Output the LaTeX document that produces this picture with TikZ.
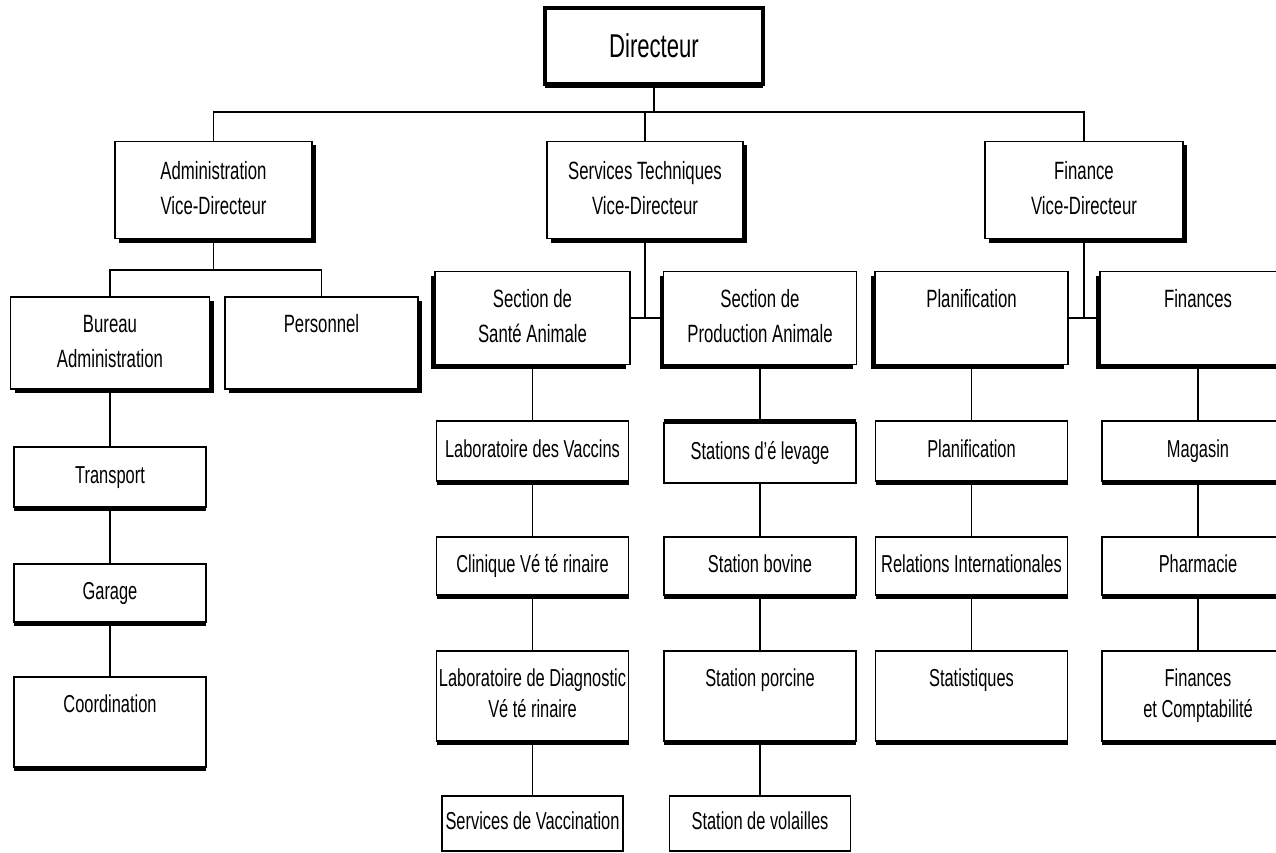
\documentclass[tikz,border=0pt]{standalone}
\usepackage{fontspec}
\setmainfont{Liberation Sans}[FakeStretch=0.67]
\usetikzlibrary{shadows}
\tikzset{
  box/.style={draw, line width=1.6pt, fill=white, inner sep=0pt, align=center,
    font=\fontsize{24.5}{31}\selectfont},
  big/.style={font=\fontsize{25}{35}\selectfont},
  sz/.style 2 args={minimum width=#1pt, minimum height=#2pt},
  shB/.style={drop shadow={shadow xshift=0pt, shadow yshift=-4pt, fill=black, opacity=1}},
  shBR/.style={drop shadow={shadow xshift=4pt, shadow yshift=-4pt, fill=black, opacity=1}},
  shBL/.style={drop shadow={shadow xshift=-4pt, shadow yshift=-4pt, fill=black, opacity=1}},
  shT/.style={drop shadow={shadow xshift=0pt, shadow yshift=4pt, fill=black, opacity=1}},
  link/.style={line width=1.5pt}
}
\begin{document}
\begin{tikzpicture}[x=1pt,y=-1pt]
\useasboundingbox (0,0) rectangle (1276,853);
\clip (0,0) rectangle (1276,853);

% top level
\node[box, shB, line width=4pt, sz={218}{76}, font=\fontsize{33}{38}\selectfont] (dir) at (654,46) {Directeur};

% vice-directors
\node[box, big, shBR, sz={197}{97}] (adm) at (213.5,190) {\strut Administration\\\strut Vice-Directeur};
\node[box, big, shBR, sz={196}{97}] (st) at (645,190) {\strut Services Techniques\\\strut Vice-Directeur};
\node[box, big, shBR, sz={198}{97}] (fin) at (1084,190) {\strut Finance\\\strut Vice-Directeur};

% sections
\node[box, big, shBR, sz={199}{92}] (bur) at (110,343) {\strut Bureau\\\strut Administration};
\node[box, big, shBR, sz={193}{92}] (pers) at (321.5,343) {\strut Personnel\\\strut};
\node[box, big, shBL, sz={195}{93}] (sante) at (532.5,318) {\strut Section de\\\strut Santé Animale};
\node[box, big, shBL, sz={193}{93}] (prod) at (760,318) {\strut Section de\\\strut Production Animale};
\node[box, big, shBL, sz={193}{93}] (plan) at (971.5,318) {\strut Planification\\\strut};
\node[box, big, shBL, sz={196}{93}] (fins) at (1198,318) {\strut Finances\\\strut};

% left column
\node[box, shB, sz={192}{60}] (trans) at (110,477) {\strut Transport};
\node[box, shB, sz={192}{58}] (gar) at (110,593) {\strut Garage};
\node[box, shB, sz={192}{90}] (coord) at (110,722) {\strut Coordination\\\strut};

% sante column
\node[box, shB, sz={192}{60}] (labv) at (532.5,451) {\strut Laboratoire des Vaccins};
\node[box, shB, sz={192}{58}] (clin) at (532.5,566) {\strut Clinique Vé té rinaire};
\node[box, shB, sz={192}{90}] (labd) at (532.5,696) {\strut Laboratoire de Diagnostic\\\strut Vé té rinaire};
\node[box, sz={181}{55}] (serv) at (532.5,823.5) {\strut Services de Vaccination};

% production column
\node[box, shT, sz={192}{60}] (elev) at (760,453) {\strut Stations d'é levage};
\node[box, shB, sz={192}{58}] (bov) at (760,566) {\strut Station bovine};
\node[box, shB, sz={192}{90}] (porc) at (760,696) {\strut Station porcine\\\strut};
\node[box, sz={181}{55}] (vol) at (760,823.5) {\strut Station de volailles};

% planification column
\node[box, shB, sz={192}{60}] (plan2) at (971.5,451) {\strut Planification};
\node[box, shB, sz={192}{58}] (rel) at (971.5,566) {\strut Relations Internationales};
\node[box, shB, sz={192}{90}] (stat) at (971.5,696) {\strut Statistiques\\\strut};

% finances column
\node[box, shB, sz={192}{60}] (mag) at (1198,451) {\strut Magasin};
\node[box, shB, sz={192}{58}] (pharm) at (1198,566) {\strut Pharmacie};
\node[box, shB, sz={192}{90}] (fc) at (1198,696) {\strut Finances\\\strut et Comptabilité};

% connectors
\coordinate (bus) at (654,112);
\coordinate (abus) at (213.5,270);
\draw[link] (dir.south) -- (bus);
\draw[link] (adm.north) |- (bus) -| (fin.north);
\draw[link] (st.north) -- (st.north |- bus);

\draw[link] (adm.south) -- (abus);
\draw[link] (bur.north) |- (abus) -| (pers.north);

\draw[link] (st.south) -- (st.south |- sante.east);
\draw[link] (sante.east) -- (prod.west);
\draw[link] (fin.south) -- (fin.south |- plan.east);
\draw[link] (plan.east) -- (fins.west);

\draw[link] (bur) -- (trans) -- (gar) -- (coord);
\draw[link] (sante) -- (labv) -- (clin) -- (labd) -- (serv);
\draw[link] (prod) -- (elev) -- (bov) -- (porc) -- (vol);
\draw[link] (plan) -- (plan2) -- (rel) -- (stat);
\draw[link] (fins) -- (mag) -- (pharm) -- (fc);
\end{tikzpicture}
\end{document}
